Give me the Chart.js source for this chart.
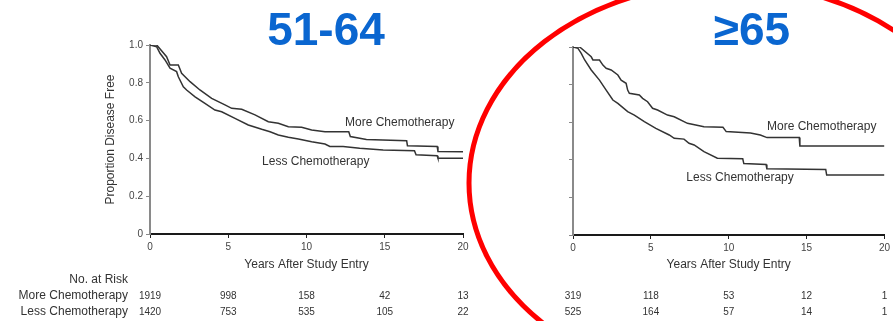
<!DOCTYPE html>
<html>
<head>
<meta charset="utf-8">
<script src="https://cdn.jsdelivr.net/npm/chart.js@4.4.1/dist/chart.umd.min.js"></script>
<style>
  html, body { margin: 0; padding: 0; background: #fff; }
  body { position: relative; width: 893px; height: 321px; overflow: hidden;
         font-family: "Liberation Sans", Arial, sans-serif; }
  canvas { position: absolute; top: 0; }
  #leftPanel { left: 0; }
  #rightPanel { left: 470px; }
  .ageTitle { position: absolute; top: 6px; font-size: 46px; font-weight: bold; line-height: 1;
              color: #0a66d0; white-space: nowrap; transform: translateX(-50%); }
  svg { position: absolute; left: 0; top: 0; pointer-events: none; }
</style>
</head>
<body>
<canvas id="leftPanel" width="480" height="321"></canvas>
<canvas id="rightPanel" width="423" height="321"></canvas>
<div class="ageTitle" style="left:326px">51-64</div>
<div class="ageTitle" style="left:752px">≥65</div>
<svg width="893" height="321"><ellipse cx="727" cy="183" rx="258" ry="200" fill="none" stroke="#ff0000" stroke-width="5"/></svg>
<script>
// Disease-free survival (Kaplan-Meier), age 51-64: years, proportion
const t_5164_more = [0, 0.43, 1.06, 1.28, 1.81, 2.02, 2.56, 3.19, 3.94, 4.79, 5.22, 5.86, 6.71, 7.56, 8.20, 8.84, 9.69, 10.33, 11.18, 12.70, 12.80, 13.83, 16.40, 16.45, 18.35, 18.40, 20];
const s_5164_more = [1.0, 1.0, 0.938, 0.894, 0.894, 0.850, 0.806, 0.762, 0.718, 0.683, 0.665, 0.660, 0.630, 0.594, 0.586, 0.568, 0.565, 0.550, 0.541, 0.541, 0.516, 0.500, 0.493, 0.467, 0.463, 0.437, 0.435];
const t_5164_less = [0, 0.43, 0.64, 0.96, 1.28, 1.70, 1.81, 2.13, 2.34, 2.88, 3.51, 4.15, 4.58, 5.43, 6.28, 7.14, 7.67, 8.20, 8.84, 9.48, 10.33, 11.18, 11.49, 12.34, 13.40, 14.90, 16.90, 17.00, 18.35, 18.40, 20];
const s_5164_less = [1.0, 0.99, 0.956, 0.921, 0.877, 0.859, 0.832, 0.779, 0.762, 0.726, 0.691, 0.656, 0.647, 0.612, 0.577, 0.554, 0.541, 0.524, 0.512, 0.503, 0.488, 0.476, 0.463, 0.463, 0.454, 0.445, 0.440, 0.419, 0.414, 0.401, 0.401];

// Disease-free survival (Kaplan-Meier), age 65 and over
const t_65_more = [0, 0.43, 1.17, 1.28, 1.70, 1.92, 2.13, 2.45, 2.88, 3.09, 3.41, 3.51, 3.62, 4.26, 4.47, 4.79, 5.11, 5.43, 6.07, 6.50, 7.35, 7.88, 8.41, 9.63, 9.84, 11.40, 12.03, 12.46, 14.53, 14.57, 20];
const s_65_more = [1.0, 1.0, 0.948, 0.931, 0.931, 0.904, 0.887, 0.878, 0.851, 0.824, 0.807, 0.771, 0.754, 0.745, 0.727, 0.709, 0.674, 0.665, 0.638, 0.629, 0.594, 0.585, 0.576, 0.573, 0.550, 0.543, 0.532, 0.518, 0.518, 0.474, 0.474];
const t_65_less = [0, 0.32, 0.53, 0.75, 1.17, 1.70, 2.13, 2.56, 2.88, 3.51, 3.94, 4.58, 5.32, 6.18, 6.50, 7.13, 7.45, 7.78, 8.41, 9.27, 10.90, 10.97, 12.40, 12.45, 16.23, 16.29, 20];
const s_65_less = [1.0, 0.993, 0.966, 0.931, 0.878, 0.824, 0.771, 0.718, 0.700, 0.656, 0.638, 0.603, 0.567, 0.532, 0.514, 0.510, 0.488, 0.479, 0.443, 0.408, 0.405, 0.380, 0.375, 0.352, 0.349, 0.319, 0.319];

// Number at risk
const riskYears = [0, 5, 10, 15, 20];
const risk_5164_more = [1919, 998, 158, 42, 13];
const risk_5164_less = [1420, 753, 535, 105, 22];
const risk_65_more = [319, 118, 53, 12, 1];
const risk_65_less = [525, 164, 57, 14, 1];

const seriesNames = ['More Chemotherapy', 'Less Chemotherapy'];
const yTickLabels = ['0', '0.2', '0.4', '0.6', '0.8', '1.0'];

const FONT = '"Liberation Sans", Arial, sans-serif';
const TEXT = '#333';

function toPoints(ts, ss) { return ts.map((t, i) => ({ x: t, y: ss[i] })); }

// Curve labels and the number-at-risk table under the x axis
const panelDecor = {
  id: 'panelDecor',
  afterDraw(chart, args, o) {
    const { ctx } = chart;
    const x = chart.scales.x, y = chart.scales.y;
    ctx.save();
    ctx.fillStyle = TEXT;
    ctx.textBaseline = 'middle';
    ctx.font = '12px ' + FONT;
    ctx.textAlign = 'left';
    o.labels.forEach(l => ctx.fillText(l.text, x.getPixelForValue(l.t), y.getPixelForValue(l.s)));
    ctx.font = '10px ' + FONT;
    ctx.textAlign = 'center';
    o.rows.forEach(r => r.values.forEach((v, i) =>
      ctx.fillText(String(v), x.getPixelForValue(riskYears[i]), r.y)));
    if (o.rowTitles) {
      ctx.font = '12px ' + FONT;
      ctx.textAlign = 'right';
      ctx.fillText('No. at Risk', o.rowTitleX, o.headY);
      o.rows.forEach((r, i) => ctx.fillText(seriesNames[i], o.rowTitleX, r.y));
    }
    ctx.restore();
  }
};

function makePanel(id, more, less, risk, cfg) {
  return new Chart(document.getElementById(id), {
    type: 'line',
    data: {
      datasets: [
        { label: seriesNames[0], data: more, borderColor: '#333', borderWidth: 1.5,
          pointRadius: 0, tension: 0, fill: false },
        { label: seriesNames[1], data: less, borderColor: '#333', borderWidth: 1.5,
          pointRadius: 0, tension: 0, fill: false }
      ]
    },
    options: {
      responsive: false,
      animation: false,
      layout: { padding: { top: cfg.top, right: cfg.right, left: 0, bottom: 0 } },
      plugins: {
        legend: { display: false },
        tooltip: { enabled: false },
        title: { display: false },
        panelDecor: {
          labels: cfg.labels,
          rows: [{ values: risk[0], y: 296 }, { values: risk[1], y: 312 }],
          rowTitles: cfg.rowTitles, rowTitleX: 128, headY: 280
        }
      },
      scales: {
        x: {
          type: 'linear', min: 0, max: 20,
          ticks: { stepSize: 5, color: '#444', padding: 3, font: { size: 10, family: FONT } },
          grid: { drawOnChartArea: false, drawTicks: true, tickLength: 4, color: '#222' },
          border: { color: '#1a1a1a', width: 2 },
          title: { display: true, text: 'Years After Study Entry', color: TEXT,
                   font: { size: 12, family: FONT }, padding: { top: 0, bottom: 49 } },
          afterFit(s) { s.height = cfg.xHeight; }
        },
        y: {
          type: 'linear', min: 0, max: 1,
          ticks: { stepSize: 0.2, display: cfg.yLabels, color: '#444', padding: 3,
                   font: { size: 10, family: FONT }, callback: (v, i) => yTickLabels[i] },
          grid: { drawOnChartArea: false, drawTicks: true, tickLength: 4, color: '#888' },
          border: { color: '#8a8a8a', width: 2 },
          title: { display: cfg.yLabels, text: 'Proportion Disease Free', color: TEXT,
                   font: { size: 12, family: FONT }, padding: { top: 103, bottom: 0 } },
          afterFit(s) { s.width = cfg.left; }
        }
      }
    },
    plugins: [panelDecor]
  });
}

makePanel('leftPanel',
  toPoints(t_5164_more, s_5164_more), toPoints(t_5164_less, s_5164_less),
  [risk_5164_more, risk_5164_less],
  { top: 45, right: 17, left: 150, xHeight: 87, yLabels: true, rowTitles: true,
    labels: [{ text: seriesNames[0], t: 12.46, s: 0.587 }, { text: seriesNames[1], t: 7.16, s: 0.381 }] });

makePanel('rightPanel',
  toPoints(t_65_more, s_65_more), toPoints(t_65_less, s_65_less),
  [risk_65_more, risk_65_less],
  { top: 47, right: 7, left: 103, xHeight: 86, yLabels: false, rowTitles: false,
    labels: [{ text: seriesNames[0], t: 12.46, s: 0.574 }, { text: seriesNames[1], t: 7.28, s: 0.303 }] });
</script>
</body>
</html>
